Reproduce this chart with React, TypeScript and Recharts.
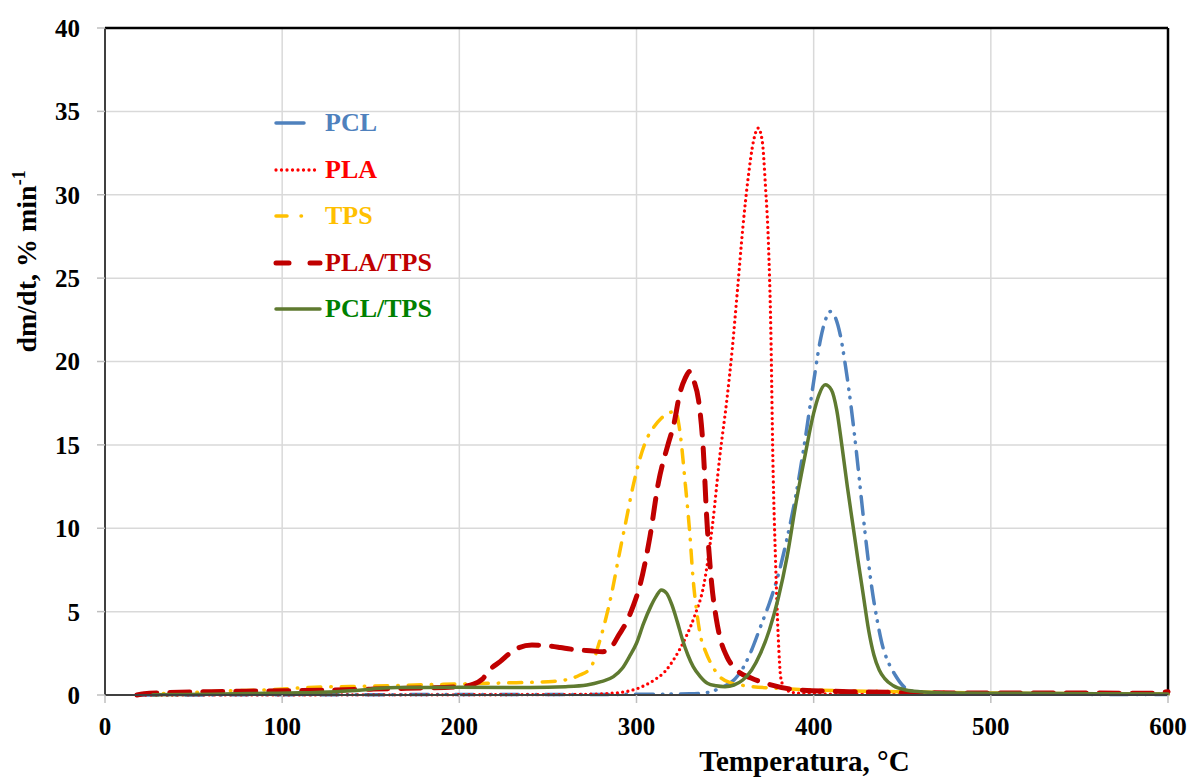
import {
  LineChart,
  Line,
  XAxis,
  YAxis,
  CartesianGrid,
  Legend,
  ReferenceLine
} from 'recharts';

// temperature (°C) / dm/dt (% min-1)
const pclT = [20, 150, 300, 330, 340, 348, 355, 360, 365, 370, 375, 380, 385, 390, 395, 400, 404, 407, 409.5, 412, 415, 418, 421, 424, 427, 430, 433, 436, 439, 442, 446, 450, 455, 462, 480, 540, 600];
const pclV = [0, 0.02, 0.04, 0.07, 0.15, 0.45, 0.9, 1.6, 2.7, 4.1, 5.5, 7.2, 9.4, 12.0, 15.2, 18.8, 21.4, 22.6, 23.0, 22.7, 21.6, 19.7, 17.4, 14.7, 11.7, 8.8, 6.3, 4.4, 2.9, 2.0, 1.2, 0.6, 0.25, 0.1, 0.05, 0.04, 0.03];

const plaT = [20, 150, 250, 270, 285, 294, 302, 310, 316, 322, 328, 333, 338, 343, 347, 351, 354, 357, 360, 363, 366, 368.7, 371, 372.8, 374.5, 375.8, 377, 378.5, 380, 381.5, 384, 390, 400, 500, 600];
const plaV = [0, 0.01, 0.02, 0.04, 0.1, 0.2, 0.45, 0.9, 1.4, 2.3, 3.5, 4.8, 6.6, 10.3, 14.3, 17.7, 20.7, 24.3, 28.0, 31.0, 33.2, 34.0, 33.2, 30.5, 27.0, 22.0, 14.0, 8.0, 3.5, 1.0, 0.35, 0.12, 0.06, 0.05, 0.05];

const tpsT = [20, 45, 70, 90, 115, 150, 175, 200, 225, 250, 262, 268, 274, 278, 282, 286, 290, 294, 298, 302, 306, 310, 314, 318, 322, 324.5, 327.5, 330, 332, 334, 336, 339, 342, 347, 354, 362, 380, 400, 450, 500, 550, 600];
const tpsV = [0.05, 0.14, 0.25, 0.3, 0.45, 0.53, 0.6, 0.66, 0.72, 0.8, 0.95, 1.2, 1.6, 2.8, 4.3, 6.1, 8.3, 10.4, 12.5, 14.2, 15.4, 16.1, 16.6, 16.9, 17.0, 15.8, 12.7, 9.8, 6.9, 5.0, 3.6, 2.6, 1.9, 1.1, 0.7, 0.55, 0.4, 0.3, 0.2, 0.12, 0.08, 0.05];

const plaTpsT = [18, 25, 60, 100, 150, 170, 200, 208, 213, 217, 223, 231, 241, 250, 257, 263, 274, 281, 286, 290, 294, 298, 302, 307.6, 312.3, 318, 321, 324.5, 327.5, 330, 332.5, 335, 337.7, 339.6, 342.4, 345, 347, 351, 356.5, 365, 373, 392, 420, 450, 500, 550, 590, 600];
const plaTpsV = [0, 0.1, 0.2, 0.25, 0.35, 0.4, 0.5, 0.65, 0.95, 1.5, 2.0, 2.7, 3.0, 2.95, 2.85, 2.75, 2.65, 2.6, 2.9, 3.6, 4.3, 5.3, 6.6, 9.5, 12.7, 15.1, 16.2, 18.1, 19.0, 19.4, 18.8, 17.7, 14.7, 10.7, 6.7, 4.6, 3.5, 2.3, 1.5, 1.0, 0.7, 0.3, 0.2, 0.15, 0.12, 0.12, 0.1, 0.2];

const pclTpsT = [27, 60, 90, 110, 130, 145, 155, 165, 200, 240, 260, 272, 280, 287, 292, 296, 300, 304, 308, 311, 314, 317, 320, 323, 326, 329, 332, 336, 340, 345, 350, 355, 360, 365, 370, 375, 380, 385, 390, 395, 400, 403, 406.5, 410, 413, 416, 419, 422, 425, 428, 431, 434, 437, 440, 445, 452, 460, 480, 520, 560, 600];
const pclTpsV = [0.02, 0.05, 0.1, 0.13, 0.2, 0.3, 0.4, 0.45, 0.46, 0.45, 0.5, 0.6, 0.8, 1.1, 1.6, 2.3, 3.1, 4.3, 5.3, 5.9, 6.3, 6.1, 5.4, 4.4, 3.3, 2.4, 1.7, 1.1, 0.7, 0.55, 0.5, 0.6, 0.9, 1.5, 2.5, 3.9, 5.8, 8.3, 11.5, 14.3, 16.9, 18.0, 18.6, 18.3, 17.1, 14.9, 12.5, 10.3, 8.1, 6.0, 3.9, 2.4, 1.5, 1.0, 0.55, 0.3, 0.2, 0.12, 0.1, 0.08, 0.06];

const xTicks = [0, 100, 200, 300, 400, 500, 600];
const yTicks = [0, 5, 10, 15, 20, 25, 30, 35, 40];

const FONT = '"Liberation Serif", "Times New Roman", serif';

const toPoints = (t: number[], v: number[]) => t.map((x, i) => ({ x, y: v[i] }));

interface Series {
  name: string;
  data: { x: number; y: number }[];
  color: string;
  textColor: string;
  width: number;
  dash?: string;
  legendDash?: string;
  legendLen: number;
}

const series: Series[] = [
  { name: 'PCL', data: toPoints(pclT, pclV), color: '#4F81BD', textColor: '#4F81BD', width: 3.5, dash: '18 9 0.5 8 0.5 9', legendDash: undefined, legendLen: 28 },
  { name: 'PLA', data: toPoints(plaT, plaV), color: '#FF0000', textColor: '#FF0000', width: 3.3, dash: '0 5.3', legendDash: '0 5.5', legendLen: 42 },
  { name: 'TPS', data: toPoints(tpsT, tpsV), color: '#FFC000', textColor: '#FFC000', width: 3.5, dash: '13 10 0.5 10', legendDash: '11 14 0.5 40', legendLen: 30 },
  { name: 'PLA/TPS', data: toPoints(plaTpsT, plaTpsV), color: '#C00000', textColor: '#C00000', width: 5, dash: '20 13', legendDash: '13 21 10 40', legendLen: 46 },
  { name: 'PCL/TPS', data: toPoints(pclTpsT, pclTpsV), color: '#5F7A30', textColor: '#008000', width: 3.5, dash: undefined, legendDash: undefined, legendLen: 44 }
];

const renderLegend = () => (
  <div style={{ display: 'flex', flexDirection: 'column' }}>
    {series.map((s) => (
      <div key={s.name} style={{ height: 46.5, display: 'flex', alignItems: 'center' }}>
        <svg width={55} height={14} style={{ display: 'block' }}>
          <line
            x1={6}
            y1={7}
            x2={6 + s.legendLen}
            y2={7}
            stroke={s.color}
            strokeWidth={s.width}
            strokeDasharray={s.legendDash}
            strokeLinecap="round"
          />
        </svg>
        <span
          style={{
            color: s.textColor,
            fontFamily: FONT,
            fontWeight: 700,
            fontSize: 26,
            lineHeight: '26px'
          }}
        >
          {s.name}
        </span>
      </div>
    ))}
  </div>
);

const YLabel = (props: any) => {
  const vb = props.viewBox || { x: 45, y: 28, height: 667 };
  const cx = vb.x - 9;
  const cy = vb.y + vb.height * 0.35;
  return (
    <text
      transform={`translate(${cx}, ${cy}) rotate(-90)`}
      textAnchor="middle"
      fontFamily={FONT}
      fontWeight={700}
      fontSize={28}
      fill="#000"
    >
      dm/dt, % min
      <tspan dy={-11} fontSize={18}>-1</tspan>
    </text>
  );
};

const XLabel = (props: any) => {
  const vb = props.viewBox || { x: 105, y: 695, width: 1063 };
  return (
    <text
      x={vb.x + vb.width * 0.658}
      y={vb.y + 76}
      textAnchor="middle"
      fontFamily={FONT}
      fontWeight={700}
      fontSize={29}
      fill="#000"
    >
      Temperatura, °C
    </text>
  );
};

const tickStyle = { fill: '#000', fontSize: 25, fontWeight: 700, fontFamily: FONT };

export default function App() {
  return (
    <div style={{ position: 'absolute', left: 0, top: 0, width: 1195, height: 778, background: '#fff' }}>
      <LineChart width={1195} height={778} margin={{ top: 28, right: 27, left: 45, bottom: 33 }}>
        <CartesianGrid stroke="#D9D9D9" strokeWidth={1.5} />
        <XAxis
          dataKey="x"
          type="number"
          domain={[0, 600]}
          ticks={xTicks}
          allowDuplicatedCategory={false}
          height={50}
          tickSize={8}
          tickMargin={14}
          tick={tickStyle}
          tickLine={{ stroke: '#BFBFBF', strokeWidth: 1.5 }}
          axisLine={{ stroke: '#404040', strokeWidth: 2 }}
          label={<XLabel />}
        />
        <YAxis
          type="number"
          domain={[0, 40]}
          ticks={yTicks}
          width={60}
          tickSize={8}
          tickMargin={17}
          tick={tickStyle}
          tickLine={{ stroke: '#BFBFBF', strokeWidth: 1.5 }}
          axisLine={{ stroke: '#404040', strokeWidth: 2 }}
          label={<YLabel />}
        />
        <ReferenceLine y={40} stroke="#000" strokeWidth={2.5} />
        <ReferenceLine x={600} stroke="#000" strokeWidth={2.5} />
        {series.map((s) => (
          <Line
            key={s.name}
            name={s.name}
            data={s.data}
            dataKey="y"
            type="monotone"
            stroke={s.color}
            strokeWidth={s.width}
            strokeDasharray={s.dash}
            strokeLinecap="round"
            dot={false}
            activeDot={false}
            isAnimationActive={false}
          />
        ))}
        <Legend
          layout="vertical"
          align="center"
          verticalAlign="middle"
          content={renderLegend}
          wrapperStyle={{ left: 270, top: 100, width: 200, height: 240 }}
        />
      </LineChart>
    </div>
  );
}
